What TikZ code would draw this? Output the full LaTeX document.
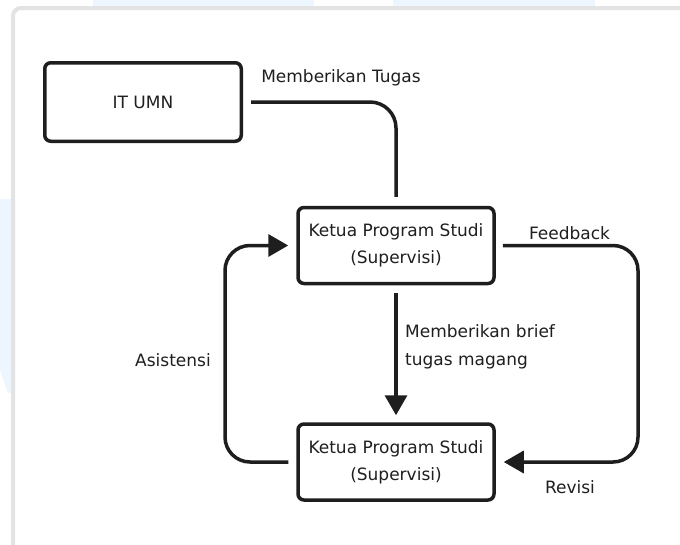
\documentclass[tikz,border=0pt]{standalone}
\usepackage{fontspec}
\setmainfont{DejaVu Sans}
\usetikzlibrary{arrows.meta,calc}
\definecolor{ink}{HTML}{1E1E1E}
\definecolor{txt}{HTML}{1F1F1F}
\definecolor{cardline}{HTML}{E3E3E3}
\definecolor{bgblue}{HTML}{EDF6FE}
\begin{document}
\begin{tikzpicture}[x=1pt,y=-1pt,
  box/.style={draw=ink, line width=3.5pt, rounded corners=6pt, fill=white,
    minimum width=196pt, minimum height=76pt, inner sep=0pt, align=center,
    text=txt, font=\fontsize{17}{27}\selectfont},
  lbl/.style={text=txt, font=\fontsize{17}{28}\selectfont, inner sep=0pt},
  conn/.style={draw=ink, line width=3.5pt, rounded corners=25pt},
  arr/.style={conn, -{Triangle[length=20pt,width=22pt]}}]
\useasboundingbox (0,0) rectangle (680,544);
\fill[white] (0,0) rectangle (680,544);
% faint background patches
\fill[bgblue] (93,0) rectangle (314,10);
\fill[bgblue] (393,0) rectangle (595,10);
\fill[bgblue] (0,199) -- (13,199) -- (13,393) -- (8,393) -- (0,370) -- cycle;
% card
\draw[cardline, line width=4pt, fill=white, rounded corners=8pt] (13,8) rectangle (700,570);

% nodes
\node[box, minimum width=196.5pt, minimum height=78.5pt] (itumn) at (143,102) {IT UMN};
\node[box] (top) at (396,245.5) {Ketua Program Studi\\(Supervisi)};
\node[box] (bot) at (396,462) {Ketua Program Studi\\(Supervisi)};

\coordinate (al) at (225,350);
\coordinate (ar) at (638,350);

% connectors
\draw[conn, rounded corners=26pt, shorten <=8pt, shorten >=9pt] (itumn.east) -| (top.north);
\draw[arr, shorten <=8pt, shorten >=7pt] (top.south) -- (bot.north);
\draw[arr, shorten <=8pt, shorten >=8pt] (bot.west) -| (al) |- (top.west);
\draw[arr, shorten <=7pt, shorten >=8pt] (top.east) -| (ar) |- (bot.east);

% labels
\node[lbl] (l1) at (341,78) {Memberikan Tugas};
\node[lbl, align=left, anchor=west] (l2) at (405,347) {Memberikan brief\\tugas magang};
\node[lbl] (l3) at (173,360) {Asistensi};
\node[lbl] (l4) at (569.5,233) {Feedback};
\node[lbl] (l5) at (570,487) {Revisi};
\end{tikzpicture}
\end{document}
